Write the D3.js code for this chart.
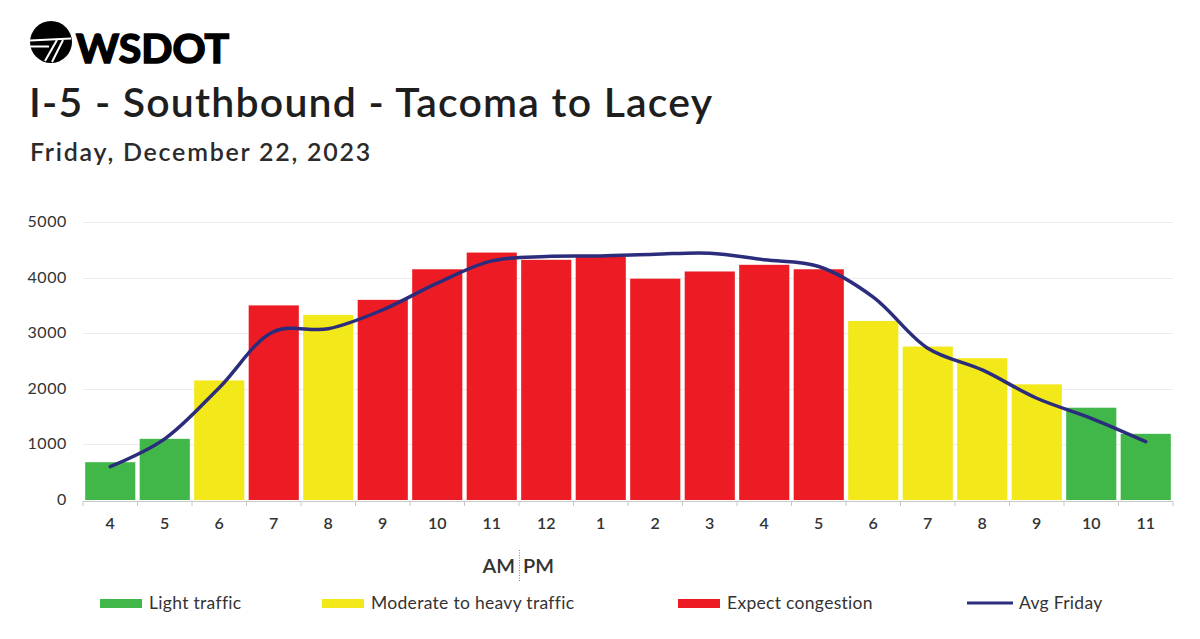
<!DOCTYPE html>
<html><head>
<meta charset="UTF-8">
<title>I-5 Southbound - Tacoma to Lacey</title>
<script src="https://d3js.org/d3.v7.min.js"></script>
<style>
  body { margin: 0; background: #fff; }
  text { font-family: Lato, "Open Sans", sans-serif; }
  .grid line { stroke: #ececec; stroke-width: 1px; }
  .tick-lbl { fill: #333; font-size: 16px; }
  .legend-lbl { fill: #333; font-size: 17.5px; letter-spacing: 0.3px; }
</style>
</head>
<body>
<script>

// hours of the day, 4 AM to 11 PM
var hours = ["4","5","6","7","8","9","10","11","12","1","2","3","4","5","6","7","8","9","10","11"];

// volume for this Friday (bars)
var volume = [680, 1100, 2150, 3500, 3330, 3600, 4150, 4450, 4320, 4380,
              3980, 4110, 4230, 4150, 3220, 2760, 2550, 2080, 1660, 1190];

// congestion level per hour: 0 light, 1 moderate/heavy, 2 congestion
var level = [0, 0, 1, 2, 1, 2, 2, 2, 2, 2, 2, 2, 2, 2, 1, 1, 1, 1, 0, 0];

// average friday (line)
var avgFriday = [600, 1100, 2020, 3030, 3080, 3420, 3900, 4300, 4380, 4390,
                 4420, 4440, 4320, 4200, 3650, 2730, 2340, 1830, 1470, 1050];

var yTicks = [0, 1000, 2000, 3000, 4000, 5000];

var levelNames = ["Light traffic", "Moderate to heavy traffic", "Expect congestion"];
var levelColors = ["#41b649", "#f2e81a", "#ed1c24"];
var lineColor = "#2b2d7c";

var W = 1200, H = 639;
var svg = d3.select("body").append("svg")
    .attr("width", W)
    .attr("height", H);

// ---- header: logo + titles
var logo = svg.append("g");
logo.append("circle").attr("cx", 51).attr("cy", 42).attr("r", 21).attr("fill", "#000");
logo.append("path")
    .attr("d", "M30,40.5 L71,38.5 M30,46.5 L49,46.5 M57,40 L45,61 M63,40 L52,62")
    .attr("stroke", "#fff").attr("stroke-width", 2).attr("fill", "none");
logo.append("text")
    .attr("x", 76).attr("y", 63)
    .attr("font-family", "'Liberation Sans', Arial, sans-serif")
    .attr("font-weight", 700)
    .attr("font-size", 41)
    .attr("stroke", "#000").attr("stroke-width", 1.6)
    .attr("fill", "#000")
    .text("WSDOT");

svg.append("text")
    .attr("x", 29).attr("y", 117)
    .attr("font-size", 41).attr("font-weight", 600)
    .attr("letter-spacing", 1.2)
    .attr("fill", "#1e1e1e")
    .text("I-5 - Southbound - Tacoma to Lacey");

svg.append("text")
    .attr("x", 30).attr("y", 161)
    .attr("font-size", 25).attr("font-weight", 600)
    .attr("letter-spacing", 1.75)
    .attr("fill", "#2b2b2b")
    .text("Friday, December 22, 2023");

// ---- chart
var x = d3.scaleBand()
    .domain(d3.range(hours.length))
    .range([83, 1173])
    .paddingInner(0.08)
    .paddingOuter(0.04);

var y = d3.scaleLinear()
    .domain([0, 5000])
    .range([500, 222]);

// gridlines
svg.append("g").attr("class", "grid")
  .selectAll("line")
  .data(yTicks.slice(1))
  .join("line")
    .attr("x1", 83).attr("x2", 1173)
    .attr("y1", function(d){ return Math.round(y(d)) + 0.5; })
    .attr("y2", function(d){ return Math.round(y(d)) + 0.5; });

// y labels
svg.append("g")
  .selectAll("text")
  .data(yTicks)
  .join("text")
    .attr("class", "tick-lbl")
    .attr("x", 67)
    .attr("y", function(d){ return y(d) + 5; })
    .attr("text-anchor", "end")
    .attr("letter-spacing", 0.6)
    .text(function(d){ return d; });

// bars
svg.append("g")
  .selectAll("rect")
  .data(volume)
  .join("rect")
    .attr("x", function(d, i){ return x(i); })
    .attr("width", x.bandwidth())
    .attr("y", function(d){ return y(d); })
    .attr("height", function(d){ return y(0) - y(d); })
    .attr("fill", function(d, i){ return levelColors[level[i]]; });

// x axis base line + ticks at category boundaries
var step = x.step();
var xAxisG = svg.append("g");
xAxisG.append("line")
    .attr("x1", 83).attr("x2", 1173)
    .attr("y1", 501.5).attr("y2", 501.5)
    .attr("stroke", "#c8c8c8");
xAxisG.selectAll("line.tk")
  .data(d3.range(hours.length + 1))
  .join("line")
    .attr("class", "tk")
    .attr("x1", function(i){ return 83 + i * step; })
    .attr("x2", function(i){ return 83 + i * step; })
    .attr("y1", 501).attr("y2", 506)
    .attr("stroke", "#c8c8c8");
xAxisG.selectAll("text")
  .data(hours)
  .join("text")
    .attr("class", "tick-lbl")
    .attr("x", function(d, i){ return x(i) + x.bandwidth() / 2; })
    .attr("y", 529)
    .attr("text-anchor", "middle")
    .attr("font-size", 17)
    .attr("font-weight", 600)
    .text(function(d){ return d; });

// AM | PM
svg.append("text")
    .attr("x", 515).attr("y", 573)
    .attr("text-anchor", "end")
    .attr("font-size", 20).attr("font-weight", 600).attr("fill", "#333")
    .text("AM");
svg.append("text")
    .attr("x", 523).attr("y", 573)
    .attr("font-size", 20).attr("font-weight", 600).attr("fill", "#333")
    .text("PM");
svg.append("line")
    .attr("x1", 519.5).attr("x2", 519.5)
    .attr("y1", 550).attr("y2", 582)
    .attr("stroke", "#888").attr("stroke-dasharray", "1,1.5");

// avg friday line
var line = d3.line()
    .x(function(d, i){ return x(i) + x.bandwidth() / 2; })
    .y(function(d){ return y(d); })
    .curve(d3.curveCatmullRom.alpha(0.5));

svg.append("path")
    .datum(avgFriday)
    .attr("d", line)
    .attr("fill", "none")
    .attr("stroke", lineColor)
    .attr("stroke-width", 3.5)
    .attr("stroke-linecap", "round");

// ---- legend
var legendX = [100, 322, 678];
var leg = svg.append("g");
levelNames.forEach(function(name, i){
  leg.append("rect")
      .attr("x", legendX[i]).attr("y", 599)
      .attr("width", 42).attr("height", 9)
      .attr("fill", levelColors[i]);
  leg.append("text")
      .attr("class", "legend-lbl")
      .attr("x", legendX[i] + 49).attr("y", 609)
      .text(name);
});
leg.append("line")
    .attr("x1", 967).attr("x2", 1013)
    .attr("y1", 603).attr("y2", 603)
    .attr("stroke", lineColor).attr("stroke-width", 3);
leg.append("text")
    .attr("class", "legend-lbl")
    .attr("x", 1019).attr("y", 609)
    .attr("font-size", 18.5)
    .text("Avg Friday");

</script>
</body>
</html>
